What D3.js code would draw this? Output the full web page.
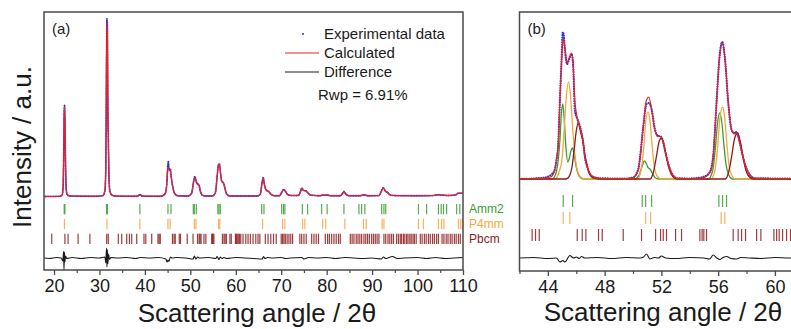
<!DOCTYPE html>
<html>
<head>
<meta charset="utf-8">
<script src="https://cdn.jsdelivr.net/npm/d3@7"></script>
<style>
  body { margin: 0; background: #fff; }
  svg { display: block; font-family: 'Liberation Sans', Arial, sans-serif; }
</style>
</head>
<body>
<svg id="chart" width="791" height="329"></svg>
<script>
// ---- data (2theta in degrees, intensity in arbitrary counts) ----
const phases = ['Amm2', 'P4mm', 'Pbcm'];

const amm2Ticks = [22.25, 22.4, 31.55, 31.75, 38.9, 45.08, 45.74, 50.65, 50.89, 51.31, 56.05, 56.31, 56.59,
  65.7, 66.2, 70.1, 70.5, 70.8, 74.65, 75.8, 78.9, 80.1, 83.8, 87.1, 87.7, 88.4, 92.1, 92.6, 93.0,
  100.2, 102.0, 104.6, 105.2, 105.7, 106.4, 108.6, 109.3];
const p4mmTicks = [22.3, 31.65, 38.9, 45.08, 45.55, 50.89, 51.24, 56.21, 56.47, 65.9, 70.3, 70.8, 74.7, 75.2,
  79.1, 79.8, 84.0, 88.1, 88.7, 92.2, 92.6, 100.2, 101.3, 104.6, 105.3, 105.8, 109.0, 109.5, 109.9];
const pbcmTicks = [19.5, 22.4, 23.1, 25.3, 27.9, 31.6, 31.95, 34.15, 34.9, 36.0, 36.6, 37.1, 38.2, 39.8, 40.2,
  41.5, 42.89, 43.13, 43.39, 46.07, 46.42, 46.68, 47.57, 47.83, 49.31, 50.6, 51.59, 51.94, 52.13, 52.36,
  53.0, 53.42, 54.71, 54.87, 54.99, 55.18, 57.06, 57.41, 57.65, 57.93, 58.71, 59.01, 59.93, 60.12, 60.3,
  60.54, 60.82, 61.1, 61.6, 62.2, 62.7, 63.2, 63.8, 64.4, 64.9, 65.3, 66.5, 67.1, 67.7, 68.3, 68.9, 70.0,
  70.3, 70.6, 70.9, 71.3, 71.7, 72.1, 72.5, 74.1, 74.5, 75.0, 75.5, 76.7, 77.2, 77.7, 78.2, 79.7, 80.2,
  80.6, 81.1, 81.6, 82.1, 82.6, 83.0, 85.2, 85.6, 86.0, 86.5, 86.9, 87.3, 87.7, 88.2, 88.6, 89.0, 89.4,
  89.9, 90.3, 90.7, 91.1, 91.5, 92.6, 93.0, 93.5, 93.9, 94.3, 94.7, 95.4, 95.8, 96.2, 96.5, 96.9, 97.2,
  97.6, 97.9, 98.3, 98.6, 99.0, 99.3, 99.7, 100.6, 101.0, 101.5, 101.9, 102.4, 102.8, 103.3, 103.7, 104.2,
  104.6, 105.4, 105.8, 106.3, 106.7, 107.2, 107.6, 108.1, 108.5, 109.0, 109.4];

const xTicksA = [20, 30, 40, 50, 60, 70, 80, 90, 100, 110];
const xMinorA = [25, 35, 45, 55, 65, 75, 85, 95, 105];
const xTicksB = [44, 48, 52, 56, 60];
const xMinorB = [42, 46, 50, 54, 58, 62];

// panel (a): full pattern
const calcA = [
  [17.8, 10], [21.3, 15], [21.8, 40], [22.0, 200], [22.15, 900], [22.25, 1700], [22.32, 1800], [22.42, 1500],
  [22.55, 600], [22.7, 150], [22.9, 50], [23.5, 20], [29.5, 15], [30.8, 30], [31.2, 120], [31.4, 600],
  [31.55, 2600], [31.65, 3480], [31.75, 3300], [31.85, 1800], [31.95, 1200], [32.1, 400], [32.3, 120],
  [32.7, 40], [33.5, 20], [38.3, 15], [38.8, 40], [39.0, 45], [39.3, 20], [43.5, 15], [44.4, 60], [44.8, 250],
  [45.05, 560], [45.2, 580], [45.4, 520], [45.6, 540], [45.8, 400], [46.1, 220], [46.5, 80], [47.2, 25],
  [49.5, 20], [50.3, 80], [50.7, 300], [51.0, 394], [51.3, 320], [51.6, 250], [51.9, 240], [52.2, 120],
  [52.6, 40], [53.3, 20], [54.8, 20], [55.5, 80], [55.9, 400], [56.2, 640], [56.4, 660], [56.65, 480],
  [56.9, 320], [57.3, 280], [57.6, 180], [58.0, 60], [58.7, 20], [64.8, 20], [65.4, 60], [65.8, 300],
  [66.05, 374], [66.3, 250], [66.7, 140], [67.3, 106], [67.8, 50], [68.6, 25], [69.6, 25], [70.1, 90],
  [70.5, 140], [70.9, 120], [71.4, 50], [72.2, 30], [73.8, 30], [74.2, 100], [74.55, 174], [74.9, 130],
  [75.4, 125], [75.8, 90], [76.4, 40], [77.5, 30], [78.5, 25], [79.2, 40], [79.6, 35], [80.1, 40], [80.8, 25],
  [83.0, 25], [83.5, 70], [83.8, 106], [84.2, 60], [84.9, 25], [87.4, 25], [88.0, 40], [88.4, 40], [89.0, 25],
  [91.5, 30], [92.0, 110], [92.45, 174], [92.9, 120], [93.4, 90], [94.0, 40], [95.0, 25], [100, 25],
  [103.5, 30], [104.6, 45], [105.2, 40], [106.5, 30], [108.3, 40], [109.0, 74], [110, 70]
];
const expA = [
  [17.8, 10], [21.3, 15], [21.8, 40], [22.0, 220], [22.15, 950], [22.25, 1720], [22.32, 1830], [22.42, 1480],
  [22.55, 620], [22.7, 150], [22.9, 50], [23.5, 20], [29.5, 15], [30.8, 30], [31.2, 130], [31.4, 560],
  [31.55, 2700], [31.65, 3560], [31.75, 3380], [31.85, 1760], [31.95, 1220], [32.1, 400], [32.3, 120],
  [32.7, 40], [33.5, 20], [38.3, 15], [38.8, 45], [39.0, 50], [39.3, 20], [43.5, 15], [44.4, 60], [44.8, 230],
  [45.05, 640], [45.15, 706], [45.3, 560], [45.6, 560], [45.8, 400], [46.1, 220], [46.5, 80], [47.2, 25],
  [49.5, 20], [50.3, 80], [50.7, 300], [51.0, 410], [51.3, 310], [51.6, 260], [51.9, 240], [52.2, 120],
  [52.6, 40], [53.3, 20], [54.8, 20], [55.5, 80], [55.9, 420], [56.2, 650], [56.4, 660], [56.65, 470],
  [56.9, 320], [57.3, 280], [57.6, 180], [58.0, 60], [58.7, 20], [64.8, 20], [65.4, 60], [65.8, 290],
  [66.05, 390], [66.3, 250], [66.7, 140], [67.3, 106], [67.8, 50], [68.6, 25], [69.6, 25], [70.1, 90],
  [70.5, 150], [70.9, 120], [71.4, 50], [72.2, 30], [73.8, 30], [74.2, 100], [74.55, 180], [74.9, 130],
  [75.4, 125], [75.8, 90], [76.4, 40], [77.5, 30], [78.5, 25], [79.2, 40], [79.6, 35], [80.1, 40], [80.8, 25],
  [83.0, 25], [83.5, 70], [83.8, 110], [84.2, 60], [84.9, 25], [87.4, 25], [88.0, 40], [88.4, 40], [89.0, 25],
  [91.5, 30], [92.0, 110], [92.45, 184], [92.9, 120], [93.4, 90], [94.0, 40], [95.0, 30], [100, 25],
  [103.5, 30], [104.6, 45], [105.2, 40], [106.5, 30], [108.3, 40], [109.0, 78], [110, 74]
];
const diffA = [
  [17.8, 0], [19, -10], [20.5, 10], [21.6, 0], [21.95, -60], [22.1, 130], [22.2, -240], [22.3, 120],
  [22.4, -80], [22.55, 40], [22.8, -10], [24, 10], [26, -10], [28, 10], [30, 0], [31.2, 20], [31.4, -100],
  [31.55, 200], [31.65, -180], [31.75, 170], [31.85, -120], [32.0, 80], [32.2, -30], [32.5, 10], [34, 0],
  [36, 10], [38, -10], [39, 10], [41, 0], [43, 10], [44.6, -20], [44.9, -80], [45.1, -40], [45.3, -70],
  [45.6, 20], [46, 0], [47, 10], [49, 0], [50.6, -20], [50.9, 40], [51.2, -20], [51.6, 20], [52, 0], [54, 10],
  [55.6, -10], [55.9, 30], [56.3, -30], [56.6, 20], [57, -10], [57.4, 10], [58, -10], [60, 10], [62, 0],
  [64, -10], [65.8, -20], [66.1, 30], [66.4, -10], [67, 10], [68, 0], [70, 10], [71, -10], [72, 0],
  [74.5, 10], [75, -20], [76, 10], [78, 0], [80, 10], [82, -10], [84, 10], [86, 0], [88, -10], [90, 0],
  [92, -20], [92.5, 20], [93, -10], [94.5, 30], [95.5, -10], [97, 0], [100, 10], [102, -10], [104, 10],
  [106, -10], [108, 0], [110, 10]
];

// panel (b): zoom 42-62 deg with phase contributions
const calcB = [
  [42, 0], [43.0, 10], [43.8, 20], [44.2, 40], [44.45, 150], [44.6, 380], [44.73, 710], [44.85, 1580],
  [44.97, 2380], [45.08, 2800], [45.2, 2620], [45.35, 2320], [45.5, 2420], [45.67, 2520], [45.78, 2300],
  [45.9, 1580], [46.05, 1250], [46.15, 1150], [46.25, 1050], [46.49, 720], [46.6, 450], [46.8, 220],
  [47.1, 60], [47.6, 15], [48.5, 10], [49.5, 10], [50.0, 30], [50.37, 180], [50.48, 380], [50.72, 1050],
  [50.95, 1580], [51.12, 1640], [51.31, 1380], [51.54, 980], [51.75, 850], [51.96, 850], [52.1, 760],
  [52.25, 580], [52.48, 310], [52.8, 80], [53.1, 15], [54.0, 10], [54.8, 20], [55.3, 80], [55.5, 180],
  [55.65, 450], [55.9, 1580], [56.08, 2380], [56.29, 2720], [56.49, 2380], [56.7, 1580], [56.95, 980],
  [57.15, 900], [57.3, 920], [57.53, 710], [57.7, 500], [57.88, 310], [58.3, 60], [58.6, 15], [60, 10], [62, 10]
];
const expB = [
  [42, 0], [43.0, 10], [43.8, 30], [44.2, 80], [44.45, 160], [44.6, 360], [44.73, 700], [44.85, 1600],
  [44.97, 2420], [45.05, 2940], [45.12, 2880], [45.2, 2600], [45.35, 2300], [45.5, 2400], [45.67, 2500],
  [45.78, 2280], [45.9, 1380], [46.05, 1220], [46.15, 1140], [46.25, 1060], [46.49, 730], [46.6, 460],
  [46.8, 220], [47.1, 60], [47.6, 15], [48.5, 10], [49.5, 10], [50.0, 30], [50.37, 200], [50.48, 400],
  [50.72, 1040], [50.95, 1500], [51.12, 1520], [51.31, 1400], [51.54, 1000], [51.75, 860], [51.96, 850],
  [52.1, 770], [52.25, 580], [52.48, 310], [52.8, 80], [53.1, 15], [54.0, 10], [54.8, 30], [55.3, 100],
  [55.5, 200], [55.65, 460], [55.9, 1600], [56.08, 2400], [56.29, 2740], [56.49, 2380], [56.7, 1560],
  [56.95, 980], [57.15, 920], [57.3, 940], [57.53, 720], [57.7, 500], [57.88, 300], [58.3, 60], [58.6, 15],
  [60, 10], [62, 10]
];
const amm2B = [
  [42, 0], [44.3, 0], [44.55, 100], [44.73, 380], [44.85, 780], [44.95, 1300], [45.05, 1500], [45.15, 1200],
  [45.28, 600], [45.4, 340], [45.5, 400], [45.62, 560], [45.74, 620], [45.85, 480], [46.0, 240], [46.2, 60],
  [46.5, 0], [50.1, 0], [50.4, 60], [50.6, 220], [50.8, 360], [50.95, 300], [51.05, 230], [51.2, 200],
  [51.35, 120], [51.55, 30], [51.8, 0], [55.3, 0], [55.6, 150], [55.8, 600], [55.95, 1100], [56.1, 1320],
  [56.25, 1150], [56.4, 700], [56.55, 300], [56.75, 80], [57.0, 0], [62, 0]
];
const p4mmB = [
  [42, 0], [44.5, 0], [44.8, 150], [45.0, 400], [45.15, 1000], [45.3, 1650], [45.45, 1940], [45.6, 1650],
  [45.75, 1000], [45.9, 500], [46.05, 200], [46.3, 40], [46.6, 0], [50.3, 0], [50.55, 150], [50.75, 600],
  [50.9, 1150], [51.05, 1340], [51.2, 1150], [51.35, 650], [51.5, 250], [51.7, 60], [52.0, 0], [55.5, 0],
  [55.75, 150], [55.95, 600], [56.1, 1150], [56.3, 1440], [56.45, 1250], [56.6, 750], [56.75, 300],
  [56.95, 80], [57.2, 0], [62, 0]
];
const pbcmB = [
  [42, 0], [45.3, 0], [45.55, 80], [45.7, 240], [45.85, 580], [46.0, 960], [46.14, 1120], [46.3, 950],
  [46.49, 720], [46.6, 500], [46.73, 320], [46.9, 120], [47.2, 20], [47.6, 0], [51.2, 0], [51.45, 150],
  [51.65, 450], [51.85, 760], [52.01, 820], [52.15, 720], [52.35, 450], [52.55, 200], [52.8, 50], [53.1, 0],
  [56.5, 0], [56.75, 150], [56.95, 450], [57.15, 800], [57.37, 920], [57.55, 760], [57.75, 450],
  [57.95, 180], [58.2, 40], [58.5, 0], [62, 0]
];
const diffB = [
  [42, 0], [43, 10], [44, -10], [44.6, 0], [44.85, -80], [45.05, -50], [45.2, -80], [45.55, 50], [45.8, 0],
  [46.02, 20], [46.2, -10], [46.37, 30], [46.6, 0], [47.5, 10], [48.5, -10], [49.5, 10], [50.5, 0],
  [50.75, 20], [50.95, 80], [51.19, -20], [51.5, 10], [51.8, 0], [52.0, 40], [52.3, 0], [53, -10], [54, 10],
  [55, 0], [55.4, -20], [55.65, 60], [55.9, 0], [56.12, -30], [56.35, 10], [56.6, 30], [56.9, -10],
  [57.3, -20], [57.6, 10], [58.2, 0], [59, -10], [60, 10], [61, 0], [62, 0]
];

// ---- styles ----
const colors = {
  calc: '#ee2020', exp: '#2a30d8', diff: '#1a1a1a',
  Amm2: '#3a9c35', P4mm: '#f5a640', Pbcm: '#8e1a1a', frame: '#4a4a4a', text: '#1a1a1a'
};

const svg = d3.select('#chart');

function drawPanel(cfg) {
  const {x, y, id} = cfg;
  const [x0, x1] = x.range();
  const [yb, yt] = y.range();

  const g = svg.append('g');

  g.append('clipPath').attr('id', id)
    .append('rect').attr('x', x0).attr('y', yt).attr('width', x1 - x0).attr('height', yb - yt);

  const plot = g.append('g').attr('clip-path', `url(#${id})`);

  const line = d3.line().x(d => x(d[0])).y(d => y(d[1])).curve(d3.curveMonotoneX);
  const diffLine = d3.line().x(d => x(d[0])).y(d => y(d[1] + cfg.diffOffset)).curve(d3.curveMonotoneX);

  // experimental data as blue dots
  plot.append('path')
    .attr('d', line(cfg.exp))
    .attr('fill', 'none')
    .attr('stroke', colors.exp)
    .attr('stroke-width', cfg.dotSize)
    .attr('stroke-linecap', 'round')
    .attr('stroke-dasharray', `0.01 ${cfg.dotGap}`);

  (cfg.components || []).forEach(c => {
    plot.append('path')
      .attr('d', line(c.data))
      .attr('fill', 'none')
      .attr('stroke', colors[c.phase])
      .attr('stroke-width', 1.3);
  });

  plot.append('path')
    .attr('d', line(cfg.calc))
    .attr('fill', 'none')
    .attr('stroke', colors.calc)
    .attr('stroke-width', 1.2);

  plot.append('path')
    .attr('d', diffLine(cfg.diff))
    .attr('fill', 'none')
    .attr('stroke', colors.diff)
    .attr('stroke-width', 1.1);

  // Bragg positions, one row per phase
  const rows = d3.scaleBand().domain(phases).range(cfg.rowRange).paddingInner(0.3);
  const tickLists = {Amm2: amm2Ticks, P4mm: p4mmTicks, Pbcm: pbcmTicks};
  phases.forEach(p => {
    plot.append('g')
      .selectAll('line')
      .data(tickLists[p].filter(v => v >= x.domain()[0] && v <= x.domain()[1]))
      .join('line')
      .attr('x1', d => x(d)).attr('x2', d => x(d))
      .attr('y1', rows(p)).attr('y2', rows(p) + rows.bandwidth())
      .attr('stroke', colors[p])
      .attr('stroke-width', 1.2)
      .attr('stroke-opacity', 0.85);
  });

  if (cfg.phaseLabels) {
    phases.forEach(p => {
      g.append('text')
        .attr('x', x1 + 6)
        .attr('y', rows(p) + rows.bandwidth() / 2 + 4)
        .attr('font-size', 12)
        .attr('fill', colors[p])
        .text(p);
    });
  }

  // frame
  g.append('rect')
    .attr('x', x0).attr('y', yt)
    .attr('width', x1 - x0).attr('height', yb - yt)
    .attr('fill', 'none')
    .attr('stroke', colors.frame)
    .attr('stroke-width', 1.5);

  // x axis: major + minor ticks
  const axis = g.append('g')
    .attr('transform', `translate(0,${yb})`)
    .call(d3.axisBottom(x).tickValues(cfg.ticks).tickSize(5).tickSizeOuter(0).tickFormat(d3.format('d')));
  axis.select('.domain').remove();
  axis.selectAll('line').attr('stroke', colors.frame).attr('stroke-width', 1.3);
  axis.selectAll('text')
    .attr('font-size', 18)
    .attr('font-family', "'Liberation Sans', Arial, sans-serif")
    .attr('fill', colors.text)
    .attr('dy', '0.78em');

  const minor = g.append('g')
    .attr('transform', `translate(0,${yb})`)
    .call(d3.axisBottom(x).tickValues(cfg.minorTicks).tickSize(3).tickSizeOuter(0).tickFormat(''));
  minor.select('.domain').remove();
  minor.selectAll('line').attr('stroke', colors.frame).attr('stroke-width', 1.2);

  g.append('text')
    .attr('x', cfg.labelX)
    .attr('y', cfg.labelY)
    .attr('text-anchor', 'middle')
    .attr('font-size', 26)
    .attr('fill', colors.text)
    .text('Scattering angle / 2θ');

  g.append('text')
    .attr('x', x0 + 8)
    .attr('y', yt + 22)
    .attr('font-size', 15)
    .attr('fill', colors.text)
    .text(cfg.tag);

  return g;
}

const xA = d3.scaleLinear().domain([17.8, 110]).range([44, 463]);
const yA = d3.scaleLinear().domain([-1460, 3700]).range([270, 12]);
const xB = d3.scaleLinear().domain([42, 62]).range([519.5, 803.3]);
const yB = d3.scaleLinear().domain([-1840, 3340]).range([271, 12]);

const panelA = drawPanel({
  id: 'clipA', x: xA, y: yA, calc: calcA, exp: expA, diff: diffA, diffOffset: -1220,
  rowRange: [204, 244], ticks: xTicksA, minorTicks: xMinorA, phaseLabels: true,
  labelX: 257, labelY: 322, tag: '(a)', dotSize: 1.8, dotGap: 1.6
});

drawPanel({
  id: 'clipB', x: xB, y: yB, calc: calcB, exp: expB, diff: diffB, diffOffset: -1580,
  rowRange: [195, 241], ticks: xTicksB, minorTicks: xMinorB, phaseLabels: false,
  components: [{phase: 'Amm2', data: amm2B}, {phase: 'P4mm', data: p4mmB}, {phase: 'Pbcm', data: pbcmB}],
  labelX: 663, labelY: 321, tag: '(b)', dotSize: 2.2, dotGap: 2.4
});

// y label
svg.append('text')
  .attr('transform', 'translate(31,147) rotate(-90)')
  .attr('text-anchor', 'middle')
  .attr('font-size', 26)
  .attr('fill', colors.text)
  .text('Intensity / a.u.');

// legend of panel (a)
const legend = panelA.append('g');
const legendItems = [
  {key: 'exp', label: 'Experimental data'},
  {key: 'calc', label: 'Calculated'},
  {key: 'diff', label: 'Difference'}
];
const legendY = d3.scalePoint().domain(legendItems.map(d => d.key)).range([34, 72]);
legendItems.forEach(item => {
  const ly = legendY(item.key);
  if (item.key === 'exp') {
    legend.append('circle').attr('cx', 303).attr('cy', ly).attr('r', 1).attr('fill', colors.exp);
  } else {
    legend.append('line').attr('x1', 285).attr('x2', 319).attr('y1', ly).attr('y2', ly)
      .attr('stroke', colors[item.key]).attr('stroke-width', 1.2);
  }
  legend.append('text').attr('x', 324).attr('y', ly + 5).attr('font-size', 15)
    .attr('fill', colors.text).text(item.label);
});
legend.append('text').attr('x', 318).attr('y', 100).attr('font-size', 15)
  .attr('fill', colors.text).text('Rwp = 6.91%');
</script>
</body>
</html>
